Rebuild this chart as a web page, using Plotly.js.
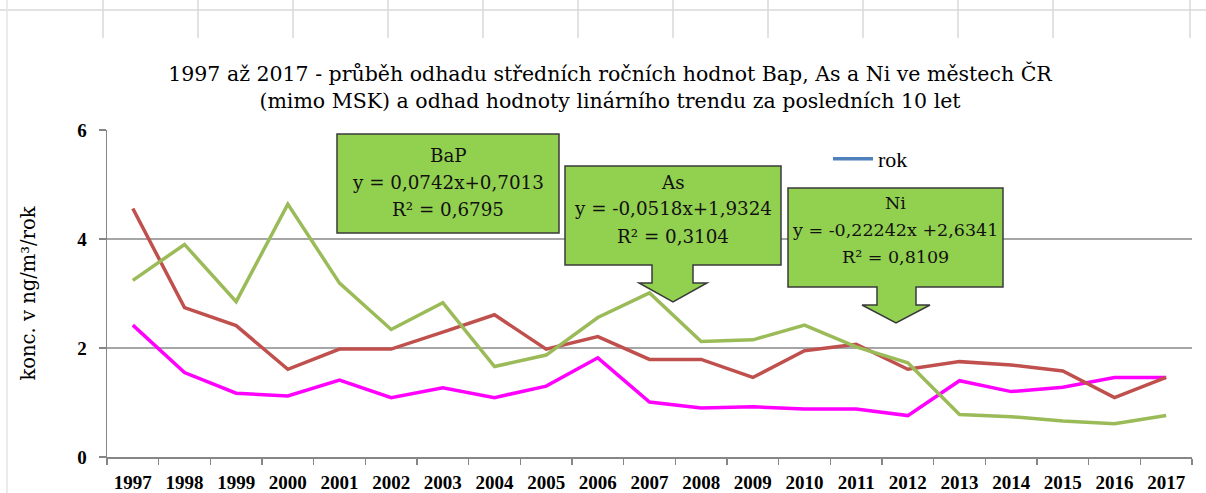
<!DOCTYPE html>
<html><head><meta charset="utf-8">
<script src="https://cdn.plot.ly/plotly-3.0.1.min.js"></script>
<style>html,body{margin:0;padding:0;background:#fff}#chart{width:1206px;height:493px}</style>
</head><body><div id="chart"></div>
<script>
// ---- data ----
const years = ['1997','1998','1999','2000','2001','2002','2003','2004','2005','2006','2007',
               '2008','2009','2010','2011','2012','2013','2014','2015','2016','2017'];
const bapValues = [2.42,1.55,1.17,1.12,1.41,1.09,1.27,1.09,1.30,1.82,1.01,0.90,0.92,0.88,0.88,0.76,1.40,1.20,1.28,1.46,1.46];
const asValues  = [4.56,2.74,2.41,1.61,1.98,1.98,2.29,2.61,1.98,2.21,1.79,1.79,1.46,1.95,2.07,1.61,1.75,1.69,1.58,1.09,1.46];
const niValues  = [3.24,3.90,2.85,4.64,3.19,2.34,2.83,1.66,1.87,2.56,3.01,2.12,2.15,2.42,2.02,1.73,0.78,0.74,0.66,0.61,0.76];
const legendName = 'rok';
const titleLines = ['1997 až 2017 - průběh odhadu středních ročních hodnot Bap, As a Ni ve městech ČR',
                    '(mimo MSK) a odhad hodnoty linárního trendu za posledních 10 let'];
const yTitle = 'konc. v ng/m³/rok';
const bapTrend = ['BaP', 'y = 0,0742x+0,7013', 'R² = 0,6795'];
const asTrend  = ['As', 'y = -0,0518x+1,9324', 'R² = 0,3104'];
const niTrend  = ['Ni', 'y = -0,22242x +2,6341', 'R² = 0,8109'];

// ---- geometry helpers (pixel -> paper) ----
const W = 1206, H = 493, L = 107, R = 1192, T = 130, B = 457;
const xp = px => (px - L) / (R - L);
const yp = py => (B - py) / (B - T);

const serif = 'Liberation Serif, Times New Roman, serif';
const wideSerif = 'DejaVu Serif, serif';

const traces = [
  {x: years, y: bapValues, type: 'scatter', mode: 'lines', name: 'BaP', showlegend: false,
   line: {color: '#FF00FF', width: 3.5}},
  {x: years, y: asValues, type: 'scatter', mode: 'lines', name: 'As', showlegend: false,
   line: {color: '#C0504D', width: 3.5}},
  {x: years, y: niValues, type: 'scatter', mode: 'lines', name: 'Ni', showlegend: false,
   line: {color: '#9BBB59', width: 3.5}},
  {x: [years[0]], y: [null], type: 'scatter', mode: 'lines', name: legendName, showlegend: true,
   line: {color: '#4F81BD', width: 3.5}}
];

function calloutPath(box, arrow) {
  const [l, t, r, b] = box;
  let pts = [[l, t], [r, t], [r, b]];
  if (arrow) {
    const {sl, sr, hy, hl, hr, tx, ty} = arrow;
    pts.push([sr, b], [sr, hy], [hr, hy], [tx, ty], [hl, hy], [sl, hy], [sl, b]);
  }
  pts.push([l, b]);
  return 'M' + pts.map(p => xp(p[0]).toFixed(5) + ',' + yp(p[1]).toFixed(5)).join(' L') + ' Z';
}

const shapes = [];
// spreadsheet cell grid above the chart
const gridColor = '#D9D9D9';
shapes.push({type: 'line', xref: 'paper', yref: 'paper', x0: xp(0), x1: xp(W), y0: yp(10), y1: yp(10),
             line: {color: gridColor, width: 1.5}});
[103,198,293,388,483,578,673,768,863,958,1053,1190].forEach(gx => {
  shapes.push({type: 'line', xref: 'paper', yref: 'paper', x0: xp(gx), x1: xp(gx), y0: yp(0), y1: yp(38),
               line: {color: gridColor, width: 1.5}});
});
shapes.push({type: 'line', xref: 'paper', yref: 'paper', x0: xp(7), x1: xp(7), y0: yp(0), y1: yp(H),
             line: {color: '#E4E4E4', width: 1.5}});

// callouts
const boxStyle = {fillcolor: '#92D050', line: {color: '#3A3A3A', width: 1.5}, layer: 'above'};
shapes.push(Object.assign({type: 'path', xref: 'paper', yref: 'paper', path: calloutPath([337,134,559,233], null)}, boxStyle));
shapes.push(Object.assign({type: 'path', xref: 'paper', yref: 'paper',
  path: calloutPath([565,166,781,265], {sl: 652, sr: 693, hy: 283, hl: 639, hr: 707, tx: 673, ty: 302})}, boxStyle));
shapes.push(Object.assign({type: 'path', xref: 'paper', yref: 'paper',
  path: calloutPath([788,188,1003,287], {sl: 877, sr: 916, hy: 305, hl: 862, hr: 930, tx: 896, ty: 323})}, boxStyle));

const annotations = [];
function addLines(lines, cx, ys, size) {
  lines.forEach((txt, i) => annotations.push({
    text: txt, xref: 'paper', yref: 'paper', x: xp(cx), y: yp(ys[i]), xanchor: 'center', yanchor: 'middle',
    showarrow: false, font: {family: wideSerif, size: size, color: '#111'}
  }));
}
addLines(bapTrend, 448, [155, 182, 209], 18.3);
addLines(asTrend, 673, [182, 208, 236], 18.3);
addLines(niTrend, 895, [203, 230, 257], 17.5);

const layout = {
  width: W, height: H,
  margin: {l: L, r: W - R, t: T, b: H - B},
  paper_bgcolor: '#FFFFFF', plot_bgcolor: '#FFFFFF',
  title: {text: titleLines.join('<br>'), xref: 'container', yref: 'container',
          x: 610 / W, xanchor: 'center', y: 1 - 81 / H, yanchor: 'middle',
          font: {family: wideSerif, size: 20.5, color: '#000'}},
  xaxis: {type: 'category', range: [-0.5, years.length - 0.5], tickson: 'boundaries', ticks: 'outside',
          ticklen: 6, tickwidth: 1.5,
          tickcolor: '#868686', showline: true, linecolor: '#868686', linewidth: 1.5, showgrid: false,
          zeroline: false, ticklabelstandoff: 8,
          tickfont: {family: serif, size: 19, weight: 'bold', color: '#000'}},
  yaxis: {range: [0, 6], dtick: 2, ticks: 'outside', ticklen: 7, tickwidth: 1.5, tickcolor: '#868686',
          showline: true, linecolor: '#868686', linewidth: 1.5, showgrid: true, gridcolor: '#A6A6A6',
          gridwidth: 1.5, zeroline: false, ticklabelstandoff: 8,
          tickfont: {family: serif, size: 19, weight: 'bold', color: '#000'},
          title: {text: yTitle, standoff: 36, font: {family: wideSerif, size: 19.5, color: '#000'}}},
  showlegend: true,
  legend: {x: xp(828), y: yp(138), xanchor: 'left', yanchor: 'top', bgcolor: 'rgba(0,0,0,0)',
           itemwidth: 40, font: {family: serif, size: 22, color: '#000'}},
  shapes: shapes,
  annotations: annotations
};

Plotly.newPlot('chart', traces, layout, {displayModeBar: false, staticPlot: true});
</script>
</body></html>
